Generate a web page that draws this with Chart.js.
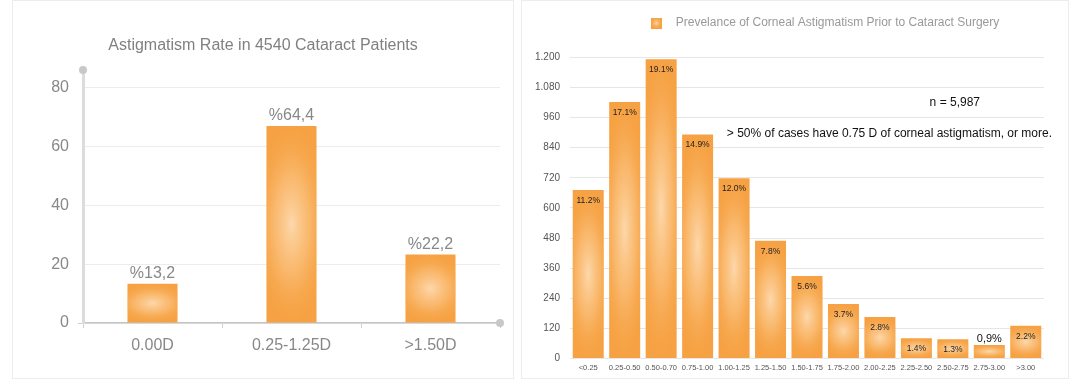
<!DOCTYPE html>
<html>
<head>
<meta charset="utf-8">
<script src="https://cdn.jsdelivr.net/npm/chart.js@4.4.1/dist/chart.umd.min.js"></script>
<style>
  html, body { margin: 0; padding: 0; background: #fff; overflow: hidden; }
  body { width: 1080px; height: 380px; position: relative; }
  .panel { position: absolute; top: 0; height: 379px; border: 1px solid #ececec; box-sizing: border-box; }
  #leftPanel { left: 12px; width: 502px; }
  #rightPanel { left: 521px; width: 548px; }
  canvas { position: absolute; top: 1px; }
  #rateChart { left: 13px; }
  #prevChart { left: 522px; }
</style>
</head>
<body>
<div class="panel" id="leftPanel"></div>
<div class="panel" id="rightPanel"></div>
<canvas id="rateChart" width="504" height="378"></canvas>
<canvas id="prevChart" width="546" height="378"></canvas>

<script>
// Left chart data
const rateCategories = ["0.00D", "0.25-1.25D", ">1.50D"];
const rateValues = [13.3, 67.0, 23.3];
const rateLabels = ["%13,2", "%64,4", "%22,2"];

// Right chart data
const prevCategories = ["<0.25", "0.25-0.50", "0.50-0.70", "0.75-1.00", "1.00-1.25", "1.25-1.50",
  "1.50-1.75", "1.75-2.00", "2.00-2.25", "2.25-2.50", "2.50-2.75", "2.75-3.00", ">3.00"];
const prevCounts = [671, 1022, 1192, 892, 718, 469, 329, 217, 165, 81, 77, 54, 130];
const prevLabels = ["11.2%", "17.1%", "19.1%", "14.9%", "12.0%", "7.8%", "5.6%", "3.7%",
  "2.8%", "1.4%", "1.3%", "0,9%", "2.2%"];
const prevTickLabels = ["0", "120", "240", "360", "480", "600", "720", "840", "960", "1.080", "1.200"];
const prevNotes = ["n = 5,987", "> 50% of cases have 0.75 D of corneal astigmatism, or more."];

const FONT = "'Liberation Sans', Arial, Helvetica, sans-serif";
const ORANGE = "#F6A244";

// soft light spot in the middle of every bar
const glowPlugin = {
  id: "glow",
  afterDatasetsDraw(chart) {
    const ctx = chart.ctx;
    chart.getDatasetMeta(0).data.forEach(bar => {
      const { x, y, base, width } = bar.getProps(["x", "y", "base", "width"], true);
      const h = base - y;
      if (h <= 0) return;
      const rx = width * 0.72;
      const ry = h * 0.5;
      ctx.save();
      ctx.beginPath();
      ctx.rect(x - width / 2, y, width, h);
      ctx.clip();
      ctx.translate(x, y + h / 2);
      ctx.scale(1, ry / rx);
      const g = ctx.createRadialGradient(0, 0, 0, 0, 0, rx);
      g.addColorStop(0, "rgba(253,216,172,1)");
      g.addColorStop(0.5, "rgba(251,198,134,0.6)");
      g.addColorStop(1, "rgba(248,170,80,0)");
      ctx.fillStyle = g;
      ctx.fillRect(-rx, -rx, rx * 2, rx * 2);
      ctx.restore();
    });
  }
};

function legendSwatch() {
  const c = document.createElement("canvas");
  c.width = 11;
  c.height = 11;
  const x = c.getContext("2d");
  x.fillStyle = ORANGE;
  x.fillRect(0, 0, 11, 11);
  const g = x.createRadialGradient(5.5, 5.5, 0, 5.5, 5.5, 6);
  g.addColorStop(0, "rgba(253,218,176,1)");
  g.addColorStop(1, "rgba(248,170,80,0)");
  x.fillStyle = g;
  x.fillRect(0, 0, 11, 11);
  return c;
}

// ---- left chart ----
const rateExtras = {
  id: "rateExtras",
  afterDatasetsDraw(chart) {
    const ctx = chart.ctx;
    ctx.save();
    ctx.font = "16px " + FONT;
    ctx.fillStyle = "#888";
    ctx.textAlign = "center";
    ctx.textBaseline = "middle";
    chart.getDatasetMeta(0).data.forEach((bar, i) => {
      ctx.fillText(rateLabels[i], bar.x, bar.y - 10);
    });
    ctx.restore();
  },
  afterDraw(chart) {
    const { ctx, chartArea } = chart;
    ctx.save();
    ctx.fillStyle = "#c8c8c8";
    [[chartArea.left, chartArea.top], [chartArea.right, chartArea.bottom]].forEach(p => {
      ctx.beginPath();
      ctx.arc(p[0], p[1], 4, 0, Math.PI * 2);
      ctx.fill();
    });
    ctx.restore();
  }
};

new Chart(document.getElementById("rateChart"), {
  type: "bar",
  data: {
    labels: rateCategories,
    datasets: [{
      data: rateValues,
      backgroundColor: ORANGE,
      barPercentage: 0.36,
      categoryPercentage: 1
    }]
  },
  options: {
    responsive: false,
    animation: false,
    layout: { padding: { left: 13, right: 17, top: 0, bottom: 16 } },
    plugins: {
      legend: { display: false },
      tooltip: { enabled: false },
      title: {
        display: true,
        text: "Astigmatism Rate in 4540 Cataract Patients",
        color: "#808080",
        font: { size: 16, family: FONT, weight: "normal" },
        padding: { top: 35, bottom: 14.8 }
      }
    },
    scales: {
      x: {
        grid: { drawOnChartArea: false, tickLength: 5, color: "#cfcfcf" },
        border: { color: "#c4c4c4", width: 1.5 },
        ticks: { color: "#888", font: { size: 16, family: FONT }, padding: 8 },
        afterFit: s => { s.height = 40; }
      },
      y: {
        min: 0,
        max: 86,
        grid: {
          color: "#ececec",
          tickLength: 5,
          tickColor: c => (c.tick && c.tick.value === 0 ? "#cfcfcf" : "rgba(0,0,0,0)")
        },
        border: { color: "#dcdcdc", width: 3 },
        ticks: { stepSize: 20, includeBounds: false, color: "#888", font: { size: 16, family: FONT }, padding: 9 },
        afterFit: s => { s.width = 57; }
      }
    }
  },
  plugins: [glowPlugin, rateExtras]
});

// ---- right chart ----
const prevExtras = {
  id: "prevExtras",
  afterLayout(chart) {
    // legend sits a bit right of the plot centre
    chart.legend.left += 34;
    chart.legend.right += 34;
  },
  afterDatasetsDraw(chart) {
    const ctx = chart.ctx;
    ctx.save();
    ctx.textAlign = "center";
    ctx.textBaseline = "middle";
    chart.getDatasetMeta(0).data.forEach((bar, i) => {
      const h = bar.base - bar.y;
      if (h > 16) {
        ctx.font = "8.5px " + FONT;
        ctx.fillStyle = "#222";
        ctx.fillText(prevLabels[i], bar.x, bar.y + 10.5);
      } else {
        ctx.font = "11px " + FONT;
        ctx.fillStyle = "#111";
        ctx.fillText(prevLabels[i], bar.x, bar.y - 6);
      }
    });

    const { chartArea, scales } = chart;
    ctx.font = "12px " + FONT;
    ctx.fillStyle = "#111";
    ctx.textAlign = "right";
    ctx.fillText(prevNotes[0], chartArea.right - 64, scales.y.getPixelForValue(1020));
    ctx.fillText(prevNotes[1], chartArea.right + 8, scales.y.getPixelForValue(894));
    ctx.restore();
  }
};

new Chart(document.getElementById("prevChart"), {
  type: "bar",
  data: {
    labels: prevCategories,
    datasets: [{
      label: "Prevelance of Corneal Astigmatism Prior to Cataract Surgery",
      data: prevCounts,
      backgroundColor: ORANGE,
      barPercentage: 0.85,
      categoryPercentage: 1
    }]
  },
  options: {
    responsive: false,
    animation: false,
    layout: { padding: { left: 8, right: 24, top: 6, bottom: 2 } },
    plugins: {
      tooltip: { enabled: false },
      legend: {
        labels: {
          usePointStyle: true,
          pointStyle: legendSwatch(),
          pointStyleWidth: 27,
          boxHeight: 11,
          padding: 10,
          color: "#999",
          font: { size: 12, family: FONT }
        }
      }
    },
    scales: {
      x: {
        grid: { display: false, drawTicks: false },
        border: { display: false },
        ticks: { color: "#555", font: { size: 7.5, family: FONT }, padding: 5, maxRotation: 0, autoSkip: false },
        afterFit: s => { s.height = 18.5; }
      },
      y: {
        min: 0,
        max: 1273,
        grid: { color: "#e6e6e6", drawTicks: false },
        border: { display: false },
        ticks: {
          stepSize: 120,
          includeBounds: false,
          color: "#555",
          font: { size: 10, family: FONT },
          padding: 10,
          callback: (v, i) => prevTickLabels[i]
        },
        afterFit: s => { s.width = 40; }
      }
    }
  },
  plugins: [glowPlugin, prevExtras]
});
</script>
</body>
</html>
